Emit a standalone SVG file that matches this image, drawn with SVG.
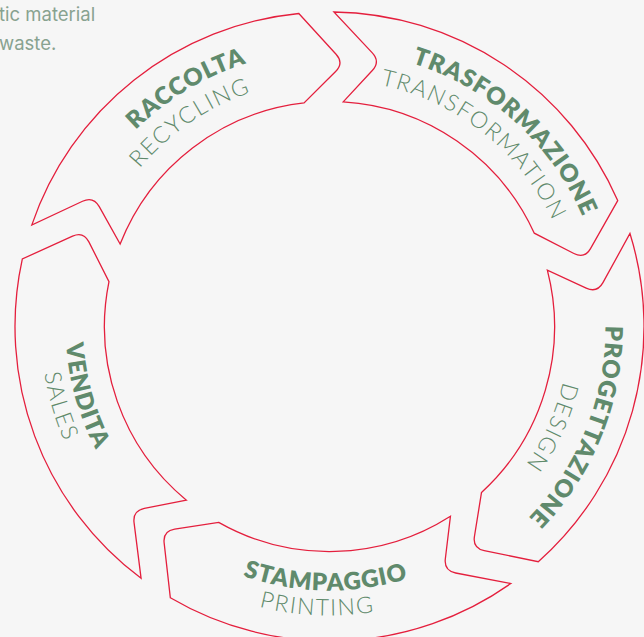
<svg xmlns="http://www.w3.org/2000/svg" xmlns:xlink="http://www.w3.org/1999/xlink" width="644" height="637" viewBox="0 0 644 637">
  <style>
    .seg { fill: none; stroke: #e41f3d; stroke-width: 1.3; stroke-linejoin: miter; }
    .title { font-family: "Lato", "Liberation Sans", sans-serif; font-weight: 800; font-size: 24px; fill: #608a6c; letter-spacing: 1px; }
    .sub { font-family: "Lato", "Liberation Sans", sans-serif; font-weight: 300; font-size: 23px; fill: #5f8a6b; letter-spacing: 1.6px; }
    .para { font-family: "Inter", "Liberation Sans", sans-serif; font-size: 18.5px; fill: #88a290; }
  </style>
  <defs>
    <!-- one arrow band of the ring; the others are rotated copies about (329.5, 326.5) -->
    <path id="arrow-seg" d="M 333.9 12.0 A 314.5 314.5 0 0 1 617.7 200.6 L 590.5 248.6 Q 584.6 259 573.9 253.5 L 534.3 233.2 A 225 225 0 0 0 343.2 101.9 L 372.3 70.5 Q 380.5 61.7 372.3 52.9 Z"/>
    <!-- label baselines, centred at the top (clockwise) or bottom (counter-clockwise) -->
    <path id="cw-title" d="M 90.48 188.5 A 276 276 0 0 1 568.52 188.5"/>
    <path id="cw-sub" d="M 115.59 203 A 247 247 0 0 1 543.41 203"/>
    <path id="cw-sub-in" d="M 121.65 206.5 A 240 240 0 0 1 537.35 206.5"/>
    <path id="ccw-title" d="M 100.87 458.5 A 264 264 0 0 0 558.13 458.5"/>
    <path id="ccw-sub" d="M 79.22 471 A 289 289 0 0 0 579.78 471"/>
  </defs>

  <rect x="0" y="0" width="644" height="637" fill="#f6f6f6"/>

  <g id="intro-text">
    <text class="para" x="-1" y="21">tic material</text>
    <text class="para" x="-1" y="50">waste.</text>
  </g>

  <g id="raccolta">
    <use href="#arrow-seg" class="seg" transform="rotate(288 329.5 326.5)"/>
    <text class="title" transform="rotate(-31 329.5 326.5)"><textPath href="#cw-title" startOffset="50%" text-anchor="middle">RACCOLTA</textPath></text>
    <text class="sub" transform="rotate(-34.3 329.5 326.5)"><textPath href="#cw-sub" startOffset="50%" text-anchor="middle">RECYCLING</textPath></text>
  </g>

  <g id="trasformazione">
    <use href="#arrow-seg" class="seg"/>
    <text class="title" transform="rotate(42 329.5 326.5)"><textPath href="#cw-title" startOffset="50%" text-anchor="middle">TRASFORMAZIONE</textPath></text>
    <text class="sub" transform="rotate(38.4 329.5 326.5)"><textPath href="#cw-sub" startOffset="50%" text-anchor="middle">TRANSFORMATION</textPath></text>
  </g>

  <g id="progettazione">
    <use href="#arrow-seg" class="seg" transform="rotate(72 329.5 326.5)"/>
    <text class="title" transform="rotate(111.9 329.5 326.5)"><textPath href="#cw-title" startOffset="50%" text-anchor="middle">PROGETTAZIONE</textPath></text>
    <text class="sub" transform="rotate(114.4 329.5 326.5)"><textPath href="#cw-sub-in" startOffset="50%" text-anchor="middle">DESIGN</textPath></text>
  </g>

  <g id="stampaggio">
    <use href="#arrow-seg" class="seg" transform="rotate(144 329.5 326.5)"/>
    <text class="title" transform="rotate(0.85 329.5 326.5)"><textPath href="#ccw-title" startOffset="50%" text-anchor="middle">STAMPAGGIO</textPath></text>
    <text class="sub" transform="rotate(2.5 329.5 326.5)"><textPath href="#ccw-sub" startOffset="50%" text-anchor="middle">PRINTING</textPath></text>
  </g>

  <g id="vendita">
    <use href="#arrow-seg" class="seg" transform="rotate(216 329.5 326.5)"/>
    <text class="title" transform="rotate(74.2 329.5 326.5)"><textPath href="#ccw-title" startOffset="50%" text-anchor="middle">VENDITA</textPath></text>
    <text class="sub" transform="rotate(73.5 329.5 326.5)"><textPath href="#ccw-sub" startOffset="50%" text-anchor="middle">SALES</textPath></text>
  </g>
</svg>
